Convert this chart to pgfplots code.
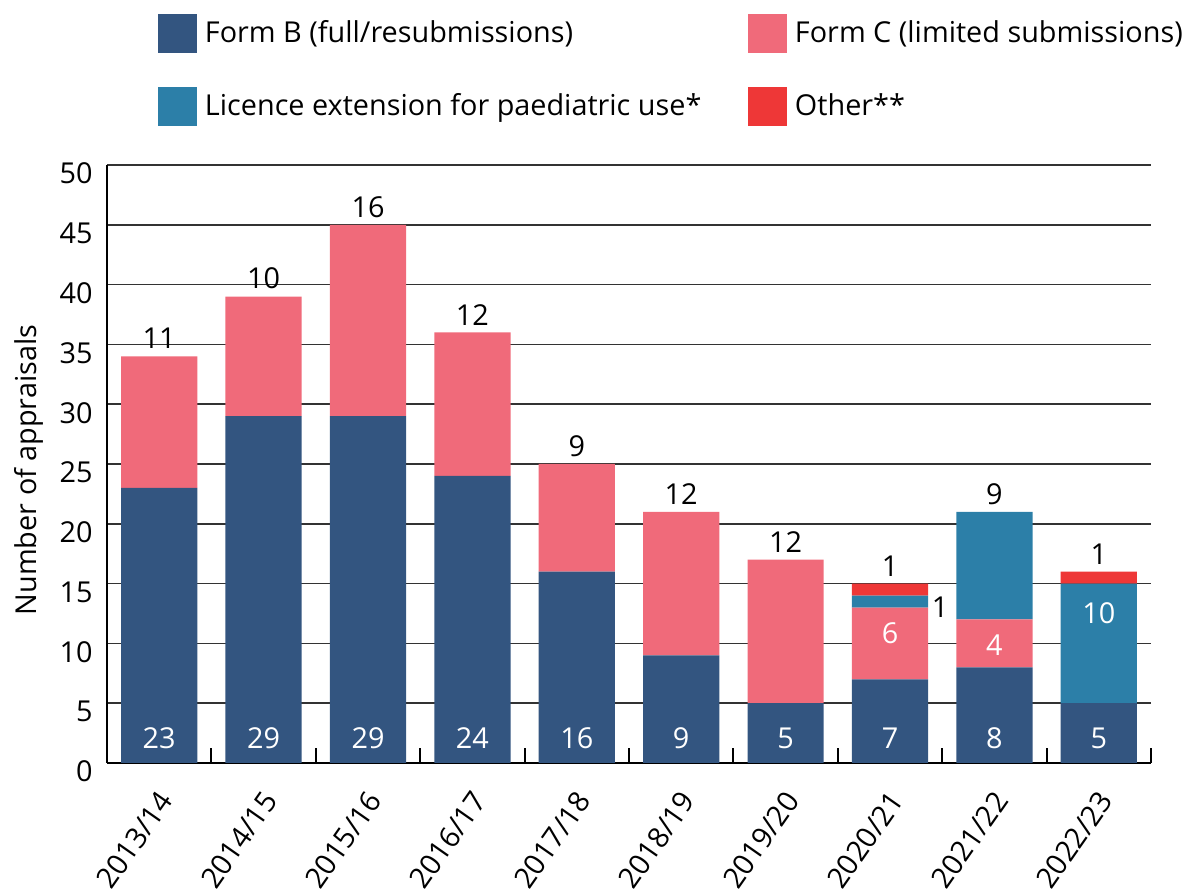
\documentclass[border=0pt]{standalone}
\usepackage{pgfplots}
\pgfplotsset{compat=1.18}
\usepackage{fontspec}
\setmainfont{Open Sans}
\definecolor{formb}{HTML}{335580}
\definecolor{formc}{HTML}{F06A7A}
\definecolor{licext}{HTML}{2C7FA8}
\definecolor{other}{HTML}{EE3737}
\tikzset{wl/.style={text=white, inner sep=0pt},
  tl/.style={anchor=south, inner sep=0pt, yshift=3.5pt}}
\begin{document}
\fontsize{14.4}{17.3}\selectfont
\begin{tikzpicture}
\begin{axis}[
  scale only axis, width=522pt, height=299pt,
  ybar stacked, bar width=0.73,
  xmin=-0.5, xmax=9.5, ymin=0, ymax=50,
  xtick={0,1,...,9},
  xticklabels={2013/14,2014/15,2015/16,2016/17,2017/18,2018/19,2019/20,2020/21,2021/22,2022/23},
  minor xtick={-0.5,0.5,...,9.5},
  ytick={0,5,...,50},
  axis x line*=bottom, axis y line*=left, axis line style={-},
  x axis line style={line width=1.3pt, black},
  y axis line style={line width=1pt, black},
  ymajorgrids, major grid style={black!80, line width=0.8pt},
  tick align=inside,
  major tick length=0pt, minor tick length=7.5pt,
  minor tick style={black, line width=1pt},
  /pgf/number format/assume math mode=true,
  yticklabel style={anchor=east, inner sep=0pt, xshift=-7pt, yshift=-4.3pt},
  xticklabel style={inner sep=0pt, xshift=3.5pt, yshift=-16pt, rotate=55, anchor=east},
  ylabel={Number of appraisals},
  every axis y label/.style={at={(axis description cs:-0.0603,0.49)}, rotate=90, anchor=south, inner sep=0pt},
  every axis plot post/.append style={draw=none,
    legend image code/.code={\fill[##1] (0pt,-9.75pt) rectangle (19.5pt,9.75pt);}},
  legend columns=2,
  legend cell align=left,
  legend style={at={(0.04885,1.2525)}, anchor=north west, draw=none, fill=none,
    inner sep=0pt, outer sep=0pt, row sep=17pt, column sep=0pt,
    nodes={inner sep=0pt, outer sep=0pt},
    /tikz/every odd column/.append style={column sep=4pt}},
]
\addplot[fill=formb] coordinates {(0,23) (1,29) (2,29) (3,24) (4,16) (5,9) (6,5) (7,7) (8,8) (9,5)};
\addplot[fill=formc] coordinates {(0,11) (1,10) (2,16) (3,12) (4,9) (5,12) (6,12) (7,6) (8,4) (9,0)};
\addplot[fill=licext] coordinates {(0,0) (1,0) (2,0) (3,0) (4,0) (5,0) (6,0) (7,1) (8,9) (9,10)};
\addplot[fill=other] coordinates {(0,0) (1,0) (2,0) (3,0) (4,0) (5,0) (6,0) (7,1) (8,0) (9,1)};
\legend{\makebox[271.5pt][l]{Form B (full/resubmissions)}, Form C (limited submissions), \makebox[271.5pt][l]{Licence extension for paediatric use*}, Other**}
\end{axis}
% overlay axis for the value labels
\begin{axis}[
  scale only axis, width=522pt, height=299pt,
  xmin=-0.5, xmax=9.5, ymin=0, ymax=50, hide axis,
]
\node[wl] at (axis cs:0,2.09) {23};
\node[wl] at (axis cs:1,2.09) {29};
\node[wl] at (axis cs:2,2.09) {29};
\node[wl] at (axis cs:3,2.09) {24};
\node[wl] at (axis cs:4,2.09) {16};
\node[wl] at (axis cs:5,2.09) {9};
\node[wl] at (axis cs:6,2.09) {5};
\node[wl] at (axis cs:7,2.09) {7};
\node[wl] at (axis cs:8,2.09) {8};
\node[wl] at (axis cs:9,2.09) {5};
\node[tl] at (axis cs:0,34) {11};
\node[tl] at (axis cs:1,39) {10};
\node[tl] at (axis cs:2,45) {16};
\node[tl] at (axis cs:3,36) {12};
\node[tl] at (axis cs:4,25) {9};
\node[tl] at (axis cs:5,21) {12};
\node[tl] at (axis cs:6,17) {12};
\node[tl] at (axis cs:7,15) {1};
\node[tl] at (axis cs:8,21) {9};
\node[tl] at (axis cs:9,16) {1};
\node[wl] at (axis cs:7,10.88) {6};
\node[wl] at (axis cs:8,9.87) {4};
\node[wl] at (axis cs:9,12.55) {10};
\node[inner sep=0pt] at (axis cs:7.48,13.0) {1};
\end{axis}
\pgfresetboundingbox
\path[use as bounding box] (-53.5pt,-64.5pt) rectangle (540pt,381.5pt);
\end{tikzpicture}
\end{document}
